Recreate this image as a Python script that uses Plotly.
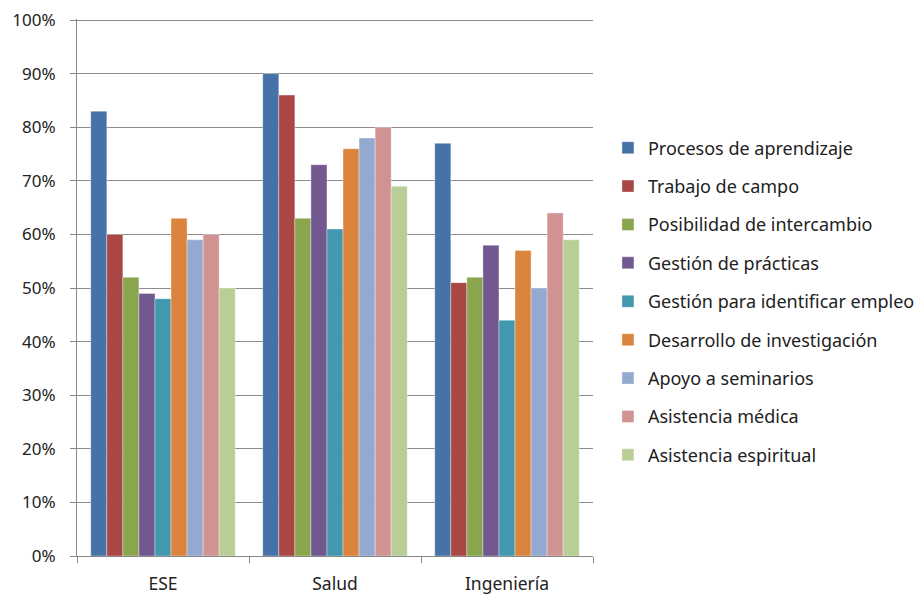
import plotly.graph_objects as go

categories = ["ESE", "Salud", "Ingeniería"]
series_names = [
    "Procesos de aprendizaje",
    "Trabajo de campo",
    "Posibilidad de intercambio",
    "Gestión de prácticas",
    "Gestión para identificar empleo",
    "Desarrollo de investigación",
    "Apoyo a seminarios",
    "Asistencia médica",
    "Asistencia espiritual",
]
procesos = [83, 90, 77]
trabajo = [60, 86, 51]
intercambio = [52, 63, 52]
practicas = [49, 73, 58]
empleo = [48, 61, 44]
investigacion = [63, 76, 57]
seminarios = [59, 78, 50]
medica = [60, 80, 64]
espiritual = [50, 69, 59]
series_values = [procesos, trabajo, intercambio, practicas, empleo,
                 investigacion, seminarios, medica, espiritual]
colors = ["#4572A7", "#AA4643", "#89A54E", "#71588F", "#4198AF",
          "#DB843D", "#93A9CF", "#D19392", "#B9CD96"]
y_ticks = [0, 10, 20, 30, 40, 50, 60, 70, 80, 90, 100]
y_tick_labels = [f"{v}%" for v in y_ticks]

fig = go.Figure()
for name, vals, col in zip(series_names, series_values, colors):
    fig.add_trace(go.Bar(
        x=categories, y=vals, name=name, legendgroup=name,
        marker=dict(color=col, line=dict(color="rgba(255,255,255,0.6)", width=0.6)),
    ))

font_family = "Noto Sans, Open Sans, DejaVu Sans, sans-serif"
fig.update_layout(
    width=922, height=595,
    margin=dict(l=69, r=336, t=11, b=47),
    paper_bgcolor="white", plot_bgcolor="white",
    barmode="group", bargap=0.16, bargroupgap=0,
    font=dict(family=font_family, size=17, color="#222222"),
    legend=dict(
        x=1.027, xanchor="left", y=0.474, yanchor="middle",
        font=dict(size=18, color="#222222"),
        tracegroupgap=12, itemwidth=30,
        bgcolor="rgba(0,0,0,0)",
    ),
    showlegend=True,
)
fig.update_xaxes(
    type="category", showline=True, linecolor="#888888", linewidth=1,
    ticks="outside", tickson="boundaries", ticklen=6, tickcolor="#888888",
    showgrid=False, tickfont=dict(size=17.5, color="#222222"),
    automargin=False, ticklabelstandoff=12,
)
fig.update_yaxes(
    range=[0, 100.2], tickvals=y_ticks, ticktext=y_tick_labels,
    showline=True, linecolor="#888888", linewidth=1,
    ticks="outside", ticklen=6, tickcolor="#888888",
    showgrid=True, gridcolor="#8c8c8c", gridwidth=1,
    zeroline=False, tickfont=dict(size=17, color="#222222"),
    automargin=False, ticklabelstandoff=11, ticklabeloverflow="allow",
)

fig.write_html("out.html")
